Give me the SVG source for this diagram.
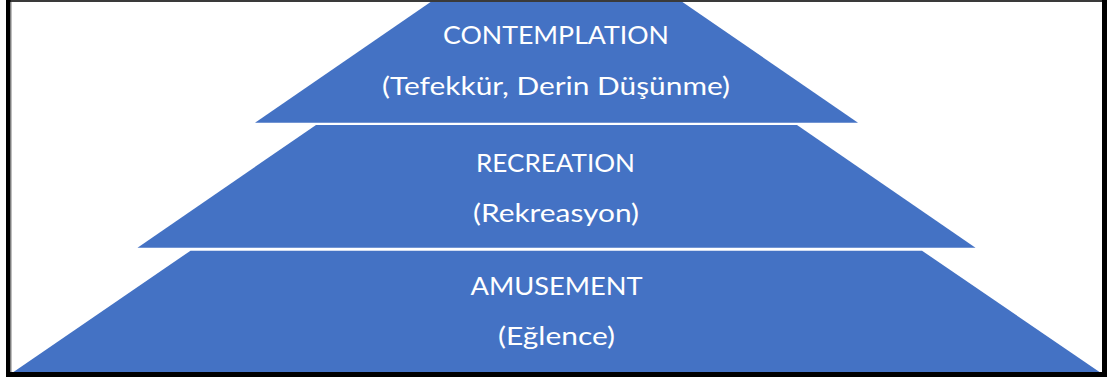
<svg xmlns="http://www.w3.org/2000/svg" width="1113" height="381" viewBox="0 0 1113 381">
  <style>
    .layer { fill: #4472C4; }
    .label { fill: #FFFFFF; font-family: Lato, "Open Sans", "Liberation Sans", sans-serif; font-size: 25px; text-anchor: middle; }
  </style>
  <rect width="1113" height="381" fill="#FFFFFF"/>

  <!-- top tier -->
  <g id="contemplation">
    <polygon class="layer" points="433.5,0 679.5,0 858,122.7 255,122.7"/>
    <text class="label" x="556" y="44" textLength="226" lengthAdjust="spacingAndGlyphs">CONTEMPLATION</text>
    <text class="label" x="556" y="95" textLength="348" lengthAdjust="spacingAndGlyphs">(Tefekkür, Derin Düşünme)</text>
  </g>

  <!-- middle tier -->
  <g id="recreation">
    <polygon class="layer" points="316,125 797,125 975.5,247.7 137.5,247.7"/>
    <text class="label" x="555.5" y="171.7" textLength="159" lengthAdjust="spacingAndGlyphs">RECREATION</text>
    <text class="label" x="556" y="221.7" textLength="166" lengthAdjust="spacingAndGlyphs">(Rekreasyon)</text>
  </g>

  <!-- bottom tier -->
  <g id="amusement">
    <polygon class="layer" points="190.5,250.7 922,250.7 1099.5,372 13.5,372"/>
    <text class="label" x="556.5" y="295" textLength="172" lengthAdjust="spacingAndGlyphs">AMUSEMENT</text>
    <text class="label" x="556.5" y="345" textLength="117" lengthAdjust="spacingAndGlyphs">(Eğlence)</text>
  </g>

  <g id="connectors"/>

  <!-- frame -->
  <g id="frame">
    <rect x="6" y="0" width="1101" height="2" fill="#3A3A3A"/>
    <rect x="6" y="0" width="4.5" height="377" fill="#000000"/>
    <rect x="10.5" y="2" width="1" height="370" fill="#7F7F7F"/>
    <rect x="1102" y="0" width="5" height="377" fill="#000000"/>
    <rect x="6" y="372" width="1101" height="5" fill="#000000"/>
  </g>
</svg>
